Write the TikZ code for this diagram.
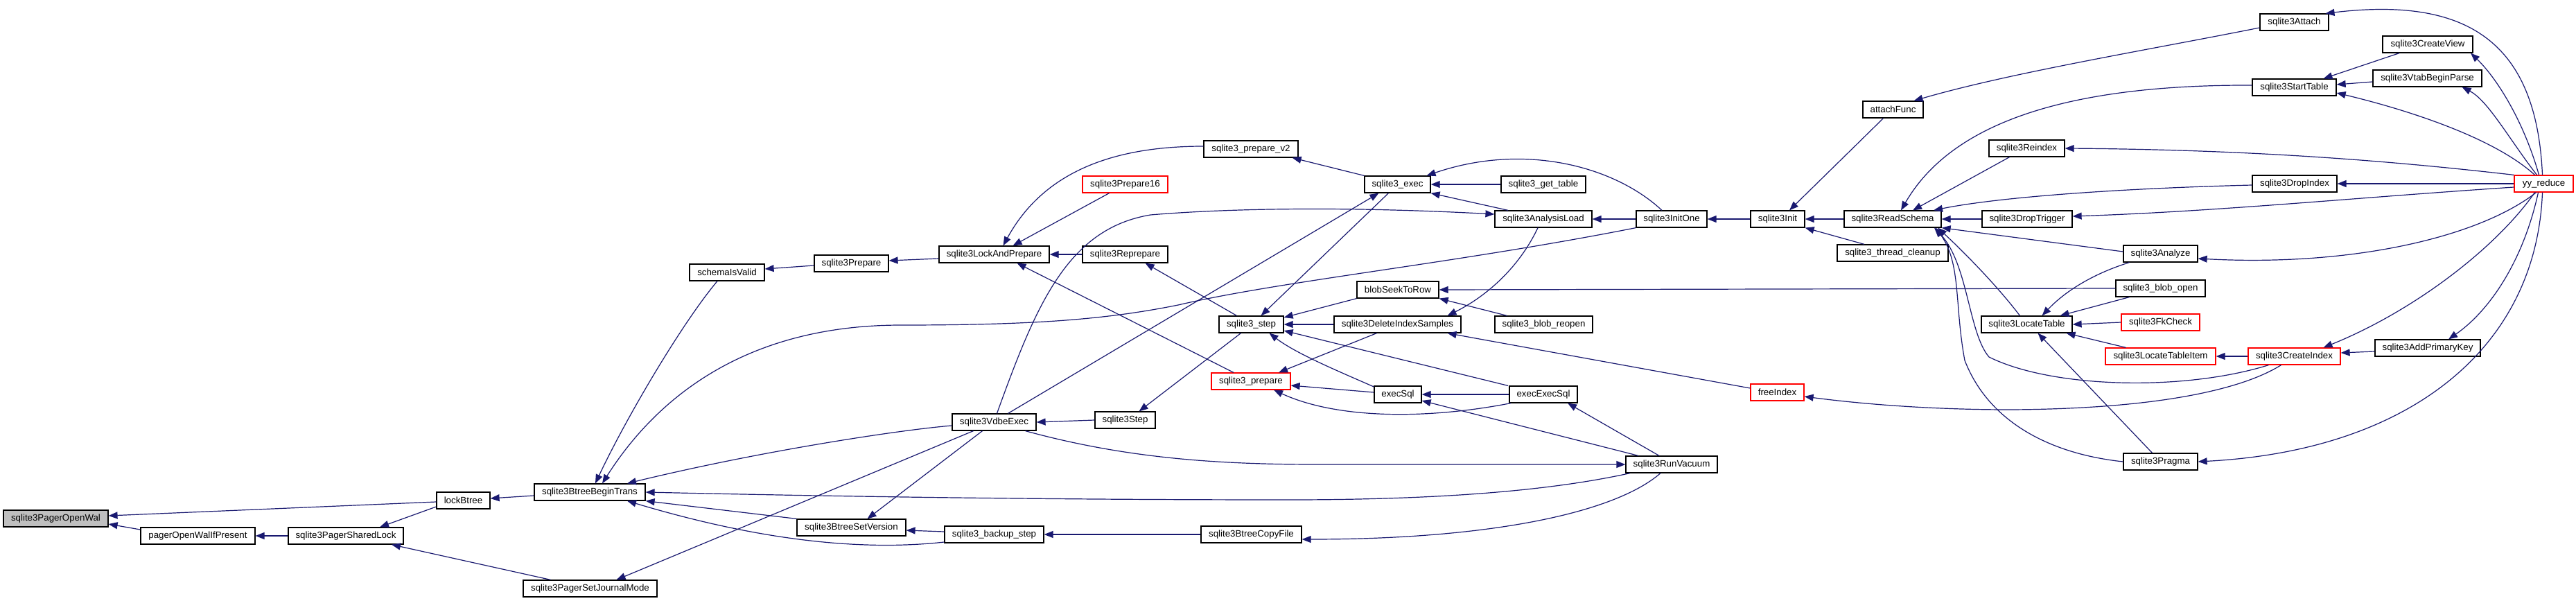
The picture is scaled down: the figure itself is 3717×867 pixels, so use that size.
\documentclass[tikz,border=0pt]{standalone}
\usepackage{fontspec}
\setmainfont{Liberation Sans}
\usetikzlibrary{arrows.meta}
\definecolor{edgecol}{HTML}{191970}
\definecolor{nodered}{HTML}{FF0000}
\definecolor{rootgray}{HTML}{BFBFBF}
\begin{document}
\begin{tikzpicture}[x=1pt, y=-1pt,
  fn/.style={draw=black, line width=1.2pt, minimum height=24pt, inner sep=0pt, fill=white,
    font=\fontsize{13.3}{16}\selectfont},
  fnred/.style={fn, draw=nodered},
  e/.style={draw=edgecol, line width=1.2pt, -{Triangle[length=13pt,width=10pt]}}]
\useasboundingbox[fill=white] (0,0) rectangle (3717,867);

\node[fn, fill=rootgray, minimum width=151pt] (openwal) at (80.5,748) {sqlite3PagerOpenWal};
\node[fn, minimum width=165pt] (owip) at (285.5,773) {pagerOpenWalIfPresent};
\node[fn, minimum width=166pt] (shlock) at (499,773) {sqlite3PagerSharedLock};
\node[fn, minimum width=77pt] (lockbtree) at (668.5,722) {lockBtree};
\node[fn, minimum width=160pt] (begintrans) at (851,710) {sqlite3BtreeBeginTrans};
\node[fn, minimum width=193pt] (journal) at (851.5,849) {sqlite3PagerSetJournalMode};
\node[fn, minimum width=108pt] (schemavalid) at (1049,393) {schemaIsValid};
\node[fn, minimum width=107pt] (prepare) at (1228.5,380) {sqlite3Prepare};
\node[fn, minimum width=159pt] (lockprep) at (1434.5,367) {sqlite3LockAndPrepare};
\node[fn, minimum width=123pt] (reprepare) at (1623.5,367) {sqlite3Reprepare};
\node[fnred, minimum width=123pt] (prep16) at (1623.5,266) {sqlite3Prepare16};
\node[fn, minimum width=136pt] (prepv2) at (1805,215) {sqlite3\_prepare\_v2};
\node[fn, minimum width=157pt] (setversion) at (1228.5,761) {sqlite3BtreeSetVersion};
\node[fn, minimum width=143pt] (backup) at (1434.5,771) {sqlite3\_backup\_step};
\node[fn, minimum width=145pt] (copyfile) at (1805.5,771) {sqlite3BtreeCopyFile};
\node[fn, minimum width=121pt] (vdbeexec) at (1434.5,609) {sqlite3VdbeExec};
\node[fn, minimum width=87pt] (stepint) at (1623.5,606) {sqlite3Step};
\node[fn, minimum width=93pt] (stepapi) at (1805.5,468) {sqlite3\_step};
\node[fnred, minimum width=114pt] (prepapi) at (1805,550) {sqlite3\_prepare};
\node[fn, minimum width=95pt] (exec) at (2016.5,266) {sqlite3\_exec};
\node[fn, minimum width=122pt] (gettable) at (2227,266) {sqlite3\_get\_table};
\node[fn, minimum width=140pt] (analysisload) at (2227,316) {sqlite3AnalysisLoad};
\node[fn, minimum width=102pt] (initone) at (2412,316) {sqlite3InitOne};
\node[fn, minimum width=118pt] (blobseek) at (2017,418) {blobSeekToRow};
\node[fn, minimum width=183pt] (delidx) at (2016.5,468) {sqlite3DeleteIndexSamples};
\node[fn, minimum width=141pt] (blobreopen) at (2227.5,468) {sqlite3\_blob\_reopen};
\node[fn, minimum width=68pt] (execsql) at (2017,569) {execSql};
\node[fn, minimum width=98pt] (execexecsql) at (2227,569) {execExecSql};
\node[fn, minimum width=132pt] (runvacuum) at (2412,670) {sqlite3RunVacuum};
\node[fn, minimum width=87pt] (attachfunc) at (2731.5,158) {attachFunc};
\node[fn, minimum width=78pt] (init) at (2565,316) {sqlite3Init};
\node[fn, minimum width=140pt] (readschema) at (2731,316) {sqlite3ReadSchema};
\node[fn, minimum width=160pt] (threadcleanup) at (2731,365) {sqlite3\_thread\_cleanup};
\node[fn, minimum width=109pt] (reindex) at (2924.5,214) {sqlite3Reindex};
\node[fn, minimum width=130pt] (droptrigger) at (2925,316) {sqlite3DropTrigger};
\node[fn, minimum width=107pt] (analyze) at (3117.5,366) {sqlite3Analyze};
\node[fn, minimum width=129pt] (blobopen) at (3117.5,416) {sqlite3\_blob\_open};
\node[fn, minimum width=131pt] (locatetable) at (2924.5,468) {sqlite3LocateTable};
\node[fnred, minimum width=77pt] (freeindex) at (2564.5,566) {freeIndex};
\node[fnred, minimum width=113pt] (fkcheck) at (3117.5,465) {sqlite3FkCheck};
\node[fnred, minimum width=159pt] (locitem) at (3117.5,514) {sqlite3LocateTableItem};
\node[fn, minimum width=107pt] (pragma) at (3117.5,666) {sqlite3Pragma};
\node[fn, minimum width=99pt] (attach) at (3310.5,32) {sqlite3Attach};
\node[fn, minimum width=130pt] (createview) at (3503,64) {sqlite3CreateView};
\node[fn, minimum width=157pt] (vtab) at (3502.5,113) {sqlite3VtabBeginParse};
\node[fn, minimum width=121pt] (starttable) at (3310.5,126) {sqlite3StartTable};
\node[fn, minimum width=122pt] (dropindex) at (3311,265) {sqlite3DropIndex};
\node[fnred, minimum width=85pt] (yyreduce) at (3670.5,265) {yy\_reduce};
\node[fnred, minimum width=133pt] (createindex) at (3310.5,514) {sqlite3CreateIndex};
\node[fn, minimum width=152pt] (addpk) at (3503,502) {sqlite3AddPrimaryKey};

% edges (arrow at callee)
\draw[e] ([yshift=9pt]owip.west) -- ([yshift=-8pt]openwal.east);
\draw[e] ([yshift=-2pt]lockbtree.west) -- ([yshift=4pt]openwal.east);
\draw[e] ([yshift=-9pt]lockbtree.west) -- ([xshift=49pt]shlock.north);
\draw[e] (shlock.west) -- (owip.east);
\draw[e] ([xshift=-57pt]journal.north) -- ([xshift=66pt]shlock.south);
\draw[e] ([yshift=-5pt]begintrans.west) -- ([yshift=3pt]lockbtree.east);
\draw[e] ([xshift=-14pt]schemavalid.south) .. controls (985,465) and (905,600) .. ([xshift=8pt]begintrans.north);
\draw[e] (initone.south west) .. controls (2100,380) and (1850,405) .. (1700,440) .. controls (1600,460) and (1500,469) .. (1300,469) .. controls (1080,469) and (950,570) .. ([xshift=18pt]begintrans.north);
\draw[e] ([yshift=-5pt]vdbeexec.west) .. controls (1300,620) and (1100,650) .. ([xshift=54pt]begintrans.north);
\draw[e] ([xshift=-60pt]runvacuum.south) .. controls (2250,705) and (2100,721) .. (1860,721) .. controls (1500,721) and (1200,716) .. (begintrans.east);
\draw[e] (setversion.north west) -- (begintrans.south east);
\draw[e] ([yshift=-11pt]backup.west) .. controls (1200,800) and (1030,760) .. ([xshift=54pt]begintrans.south);
\draw[e] ([xshift=-30pt]vdbeexec.south) -- ([xshift=38pt]journal.north);
\draw[e] ([xshift=-17pt]vdbeexec.south) -- ([xshift=23pt]setversion.north);
\draw[e] ([yshift=4pt]backup.west) -- ([yshift=-4pt]setversion.east);
\draw[e] (copyfile.west) -- (backup.east);
\draw[e] ([xshift=-16pt]runvacuum.south) .. controls (2330,740) and (2150,778) .. ([yshift=-7pt]copyfile.east);
\draw[e] ([xshift=45pt]vdbeexec.south) .. controls (1620,660) and (1750,670) .. (1900,670) -- (runvacuum.west);
\draw[e] (stepint.west) -- (vdbeexec.east);
\draw[e] ([xshift=-15pt]stepapi.south) -- ([xshift=20pt]stepint.north);
\draw[e] ([xshift=-21pt]stepapi.north) -- ([xshift=29pt]reprepare.south);
\draw[e] (reprepare.west) -- (lockprep.east);
\draw[e] ([xshift=-25pt]prepapi.north) -- ([xshift=33pt]lockprep.south);
\draw[e] ([xshift=-23pt]prep16.south) -- ([xshift=27pt]lockprep.north);
\draw[e] ([yshift=4pt]prepv2.west) .. controls (1620,211) and (1510,240) .. ([xshift=13pt]lockprep.north);
\draw[e] ([yshift=-6pt]lockprep.west) -- ([yshift=4pt]prepare.east);
\draw[e] ([yshift=-3pt]prepare.west) -- ([yshift=5pt]schemavalid.east);
\draw[e] (exec.north west) -- ([xshift=-9pt]prepv2.south east);
\draw[e] (gettable.west) -- (exec.east);
\draw[e] ([xshift=-51pt]analysisload.north) -- (exec.south east);
\draw[e] ([xshift=-14pt]initone.north) .. controls (2330,240) and (2200,205) .. ([xshift=42pt]exec.north);
\draw[e] (initone.west) -- (analysisload.east);
\draw[e] ([xshift=4pt]vdbeexec.north) .. controls (1495,440) and (1540,330) .. (1660,310) .. controls (1780,300) and (1950,298) .. ([yshift=7pt]analysisload.west);
\draw[e] ([xshift=20pt]vdbeexec.north) -- ([xshift=-27pt]exec.south);
\draw[e] ([xshift=-13pt]exec.south) -- ([xshift=14pt]stepapi.north);
\draw[e] (blobseek.south west) -- ([yshift=10pt]stepapi.east);
\draw[e] (delidx.west) -- (stepapi.east);
\draw[e] ([xshift=-51pt]execexecsql.north) -- ([yshift=-9pt]stepapi.east);
\draw[e] ([yshift=11pt]execsql.west) .. controls (1930,535) and (1870,510) .. ([xshift=26pt]stepapi.south);
\draw[e] ([yshift=3pt]execsql.west) -- ([yshift=-6pt]prepapi.east);
\draw[e] ([xshift=-47pt]execexecsql.south) .. controls (2060,605) and (1930,605) .. ([xshift=33pt]prepapi.south);
\draw[e] ([xshift=-30pt]delidx.south) -- ([xshift=40pt]prepapi.north);
\draw[e] ([xshift=-8pt]analysisload.south) .. controls (2190,390) and (2140,430) .. ([xshift=72pt]delidx.north);
\draw[e] ([yshift=6pt]freeindex.west) -- ([xshift=72pt]delidx.south);
\draw[e] (blobopen.west) -- (blobseek.east);
\draw[e] ([xshift=-53pt]blobreopen.north) -- (blobseek.south east);
\draw[e] (execexecsql.west) -- (execsql.east);
\draw[e] ([xshift=-48pt]runvacuum.north) -- ([yshift=-9pt]execsql.east);
\draw[e] ([xshift=-18pt]runvacuum.north) -- ([xshift=35pt]execexecsql.south);
\draw[e] (init.west) -- (initone.east);
\draw[e] ([xshift=-14pt]attachfunc.south) -- ([xshift=17pt]init.north);
\draw[e] (readschema.west) -- (init.east);
\draw[e] ([xshift=-41pt]threadcleanup.north) -- (init.south east);
\draw[e] ([yshift=-8pt]attach.west) .. controls (3100,72) and (2900,105) .. ([xshift=30pt]attachfunc.north);
\draw[e] ([yshift=3pt]starttable.west) .. controls (3000,122) and (2820,170) .. ([xshift=12pt]readschema.north);
\draw[e] ([xshift=-25pt]reindex.south) -- ([xshift=29pt]readschema.north);
\draw[e] ([yshift=-2pt]dropindex.west) .. controls (3050,272) and (2880,285) .. ([xshift=59pt]readschema.north);
\draw[e] (droptrigger.west) -- (readschema.east);
\draw[e] ([yshift=3pt]analyze.west) -- (readschema.south east);
\draw[e] ([xshift=-10pt]locatetable.north) .. controls (2880,410) and (2830,360) .. ([xshift=65pt]readschema.south);
\draw[e] ([xshift=-37pt]createindex.south) .. controls (3150,565) and (2960,560) .. (2870,515) .. controls (2840,480) and (2840,380) .. ([xshift=60pt]readschema.south);
\draw[e] (pragma.west) .. controls (2960,655) and (2870,610) .. (2835,520) .. controls (2820,440) and (2830,380) .. ([xshift=62pt]readschema.south);
\draw[e] ([xshift=-45pt]analyze.south) .. controls (3020,395) and (2980,420) .. ([xshift=22pt]locatetable.north);
\draw[e] ([xshift=-45pt]blobopen.south) -- ([xshift=48pt]locatetable.north);
\draw[e] (fkcheck.west) -- (locatetable.east);
\draw[e] ([xshift=-50pt]locitem.north) -- ([xshift=57pt]locatetable.south);
\draw[e] ([xshift=-12pt]pragma.north) -- ([xshift=16pt]locatetable.south);
\draw[e] (createindex.west) -- (locitem.east);
\draw[e] ([yshift=-5pt]addpk.west) -- ([yshift=5pt]createindex.east);
\draw[e] ([xshift=-19pt]createindex.south) .. controls (3230,565) and (3100,590) .. (2900,591) .. controls (2780,591) and (2680,582) .. ([yshift=-6pt]freeindex.east);
\draw[e] ([xshift=-41pt]createview.south) -- ([xshift=42pt]starttable.north);
\draw[e] ([yshift=-5pt]vtab.west) -- ([yshift=4pt]starttable.east);
\draw[e] ([xshift=-13pt]yyreduce.north) .. controls (3600,200) and (3480,160) .. ([yshift=-8pt]starttable.east);
\draw[e] ([xshift=-7pt]yyreduce.north) .. controls (3640,170) and (3600,110) .. ([xshift=62pt]createview.south);
\draw[e] ([xshift=-10pt]yyreduce.north) .. controls (3620,200) and (3590,145) .. ([xshift=50pt]vtab.south);
\draw[e] ([xshift=-2pt]yyreduce.north) .. controls (3660,60) and (3560,-5) .. ([xshift=45pt]attach.north);
\draw[e] (yyreduce.north west) .. controls (3450,232) and (3250,216) .. (reindex.east);
\draw[e] (yyreduce.west) -- (dropindex.east);
\draw[e] ([yshift=-5pt]yyreduce.west) .. controls (3400,285) and (3200,305) .. ([yshift=4pt]droptrigger.east);
\draw[e] ([xshift=-11pt]yyreduce.south) .. controls (3580,340) and (3400,385) .. ([yshift=-7pt]analyze.east);
\draw[e] ([xshift=-2pt]yyreduce.south) .. controls (3660,500) and (3480,650) .. (pragma.east);
\draw[e] ([xshift=-13pt]yyreduce.south) .. controls (3600,360) and (3480,450) .. ([xshift=42pt]createindex.north);
\draw[e] ([xshift=-8pt]yyreduce.south) .. controls (3640,380) and (3590,450) .. ([xshift=30pt]addpk.north);
\end{tikzpicture}
\end{document}
